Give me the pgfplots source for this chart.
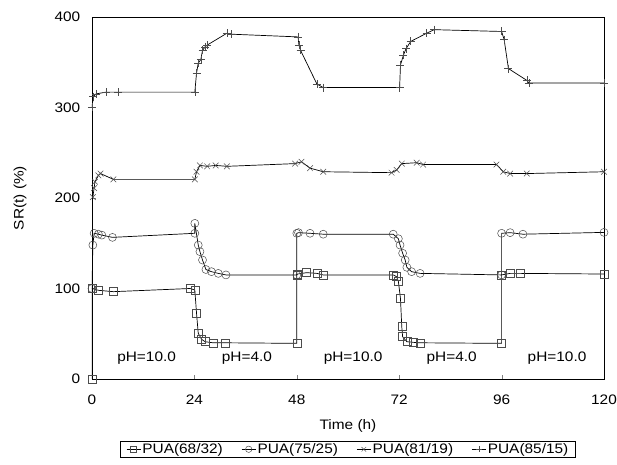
\documentclass[border=0pt]{standalone}
\usepackage{fontspec}
\setmainfont{Liberation Sans}[FakeStretch=1.12]
\usepackage{pgfplots}
\pgfplotsset{compat=1.18}
\begin{document}
\fontsize{13.8}{16}\selectfont
\begin{tikzpicture}[x=1bp,y=1bp]
\useasboundingbox (-92bp,-86bp) rectangle (525bp,379bp);
\begin{axis}[
  at={(0bp,0bp)}, anchor=south west,
  scale only axis, width=512bp, height=362bp,
  xmin=0, xmax=120, ymin=0, ymax=400,
  xtick={0,24,48,72,96,120}, ytick={0,100,200,300,400},
  xtick pos=bottom, ytick pos=left, tick align=inside,
  major tick length=4bp,
  /pgf/number format/assume math mode=true,
  tick label style={font=\fontsize{13.8}{16}\selectfont},
  xticklabel style={anchor=base, yshift=-25bp},
  yticklabel style={xshift=-7bp},
  label style={font=\fontsize{13.8}{16}\selectfont},
  xlabel={Time (h)}, ylabel={SR(t) (\%)},
  xlabel style={at={(axis description cs:0.5,0)}, anchor=center, yshift=-47bp},
  ylabel style={at={(axis description cs:0,0.5)}, anchor=center, yshift=72bp},
  axis line style={line width=0.8bp},
  legend columns=4,
  legend style={at={(0.5,-0.171)}, anchor=north, draw=black, line width=0.7bp,
    font=\fontsize{13.8}{16}\selectfont, inner xsep=6bp, inner ysep=0.5bp,
    nodes={inner sep=1.5bp},
    /tikz/every even column/.append style={column sep=17bp}},
  legend image code/.code={\draw[mark size=3.2bp, mark repeat=2,mark phase=2] plot coordinates {(0bp,0bp) (7bp,0bp) (14bp,0bp)};},
  every axis plot/.append style={black, line width=0.7bp, mark size=4bp, mark options={solid, line width=0.5bp, draw=black!70}},
]
% PUA(68/32)
\addplot[mark=square] coordinates {
(0,0) (0,100) (1.5,98) (5,96.5) (23,100) (24.1,98.3) (24.5,72.6) (24.9,50.5)
(25.7,43.8) (26.5,41.2) (28.4,40) (31.2,40) (48,39.4) (48,115) (48.2,116)
(50.3,117.5) (52.7,116.7) (54.2,115) (70.6,115) (71.4,113) (71.8,108)
(72.3,89) (72.6,57.8) (72.8,46.7) (73.8,41.2) (75.3,40.5) (76.9,40) (96,39.4)
(96,115) (98,116.7) (100.3,116.7) (120,116)};
\addlegendentry{PUA(68/32)}
% PUA(75/25)
\addplot[mark=o] coordinates {
(0,100) (0.2,148) (0.5,161) (1.5,160) (2.3,159) (4.8,156.5) (24.1,161)
(24.1,172) (24.9,148) (25.3,140.7) (25.9,131.5) (26.7,121) (28,118.6)
(29.6,116.7) (31.4,115) (48,115) (48,161) (48.4,161.7) (51.1,161) (54.2,160)
(70.6,160) (71.8,155) (72.2,148) (72.8,139) (73.4,131.5) (73.8,123.4)
(74.9,118.6) (76.9,116.7) (96,115) (96,161) (98,161.7) (101,160) (120,162)};
\addlegendentry{PUA(75/25)}
% PUA(81/19)
\addplot[mark=x] coordinates {
(0.2,201) (0.5,211) (0.7,218) (1.5,225) (2,227) (5,220.6) (24.1,220.6)
(24.5,229) (25.3,236) (27,235) (29,236) (31.6,235) (47.6,238) (49.1,240)
(51.1,233) (54.2,229) (70.2,228) (71.4,231) (72.6,238) (76.1,239) (77.6,237)
(94.8,237) (96.4,229) (98,227) (101.9,227) (120,229)};
\addlegendentry{PUA(81/19)}
% PUA(85/15)
\addplot[mark=+] coordinates {
(0,300.5) (0.3,312) (0.9,315) (3.3,317) (6.2,317) (24.1,317) (24.5,338)
(24.9,349) (25.5,353) (25.9,363) (26.5,367) (27,369) (31.6,382) (32.7,381)
(48.3,378) (48.5,369) (48.9,363) (52.7,326) (54.2,322) (72.1,322) (72.3,347)
(73,358) (73.6,365) (74.7,373) (78.4,382) (80.2,386) (96,384) (96.6,375)
(97.6,343) (101.9,330) (102.4,327) (120,327)};
\addlegendentry{PUA(85/15)}
\node at (axis cs:12.8,23) {pH=10.0};
\node at (axis cs:36.3,23) {pH=4.0};
\node at (axis cs:61.2,23) {pH=10.0};
\node at (axis cs:84.3,23) {pH=4.0};
\node at (axis cs:109,23) {pH=10.0};
\end{axis}
\end{tikzpicture}
\end{document}
